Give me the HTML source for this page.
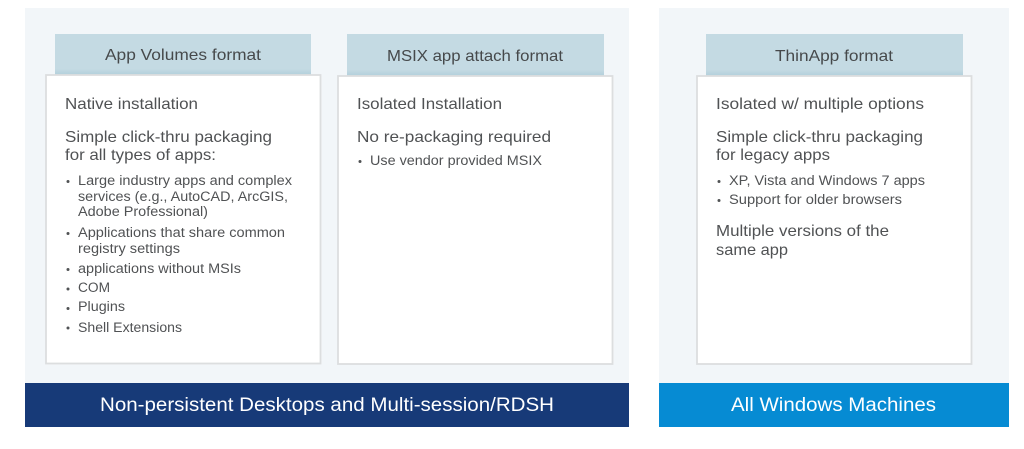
<!DOCTYPE html>
<html>
<head>
<meta charset="utf-8">
<style>
html,body{margin:0;padding:0;background:#fff;width:1024px;height:449px;overflow:hidden}
svg{display:block}
text{font-family:"Liberation Sans",sans-serif;fill:#505254}
.h{font-size:16px;fill:#46494b}
.m{font-size:16px}
.s{font-size:13.500px}
.b{font-size:19px;fill:#fff}
</style>
</head>
<body>
<svg width="1024" height="449" viewBox="0 0 1024 449" xmlns="http://www.w3.org/2000/svg">
<defs>
<linearGradient id="g" x1="0" y1="0" x2="0" y2="1">
<stop offset="0" stop-color="#c4dae3"/>
<stop offset="0.85" stop-color="#c4dae3"/>
<stop offset="1" stop-color="#b1cfdb"/>
</linearGradient>
</defs>
<rect x="25" y="8" width="604" height="376" fill="#f2f6f9"/>
<rect x="659" y="8" width="350" height="376" fill="#f2f6f9"/>
<rect x="25" y="383" width="604" height="44" fill="#173a78"/>
<rect x="659" y="383" width="350" height="44" fill="#068bd3"/>

<rect x="55" y="34" width="256" height="41" fill="url(#g)"/>
<rect x="347" y="34" width="257" height="42" fill="url(#g)"/>
<rect x="706" y="34" width="257" height="42" fill="url(#g)"/>

<rect x="46" y="75" width="274.500" height="288.500" fill="#fff" stroke="#dcdedf" stroke-width="1.800"/>
<rect x="338" y="76" width="274.500" height="288" fill="#fff" stroke="#dcdedf" stroke-width="1.800"/>
<rect x="697" y="76" width="274.500" height="288" fill="#fff" stroke="#dcdedf" stroke-width="1.800"/>

<text class="h" x="105" y="60" textLength="156" lengthAdjust="spacingAndGlyphs">App Volumes format</text>
<text class="h" x="387" y="61" textLength="176" lengthAdjust="spacingAndGlyphs">MSIX app attach format</text>
<text class="h" x="775" y="61" textLength="118" lengthAdjust="spacingAndGlyphs">ThinApp format</text>

<text class="m" x="65" y="109" textLength="133" lengthAdjust="spacingAndGlyphs">Native installation</text>
<text class="m" x="65" y="142" textLength="207" lengthAdjust="spacingAndGlyphs">Simple click-thru packaging</text>
<text class="m" x="65" y="160" textLength="151" lengthAdjust="spacingAndGlyphs">for all types of apps:</text>
<text class="s" x="78" y="185" textLength="214" lengthAdjust="spacingAndGlyphs">Large industry apps and complex</text>
<text class="s" x="78" y="201" textLength="210" lengthAdjust="spacingAndGlyphs">services (e.g., AutoCAD, ArcGIS,</text>
<text class="s" x="78" y="216" textLength="130" lengthAdjust="spacingAndGlyphs">Adobe Professional)</text>
<text class="s" x="78" y="237" textLength="207" lengthAdjust="spacingAndGlyphs">Applications that share common</text>
<text class="s" x="78" y="253" textLength="102" lengthAdjust="spacingAndGlyphs">registry settings</text>
<text class="s" x="78" y="273" textLength="163" lengthAdjust="spacingAndGlyphs">applications without MSIs</text>
<text class="s" x="78" y="292" textLength="32" lengthAdjust="spacingAndGlyphs">COM</text>
<text class="s" x="78" y="311" textLength="47" lengthAdjust="spacingAndGlyphs">Plugins</text>
<text class="s" x="78" y="332" textLength="104" lengthAdjust="spacingAndGlyphs">Shell Extensions</text>

<text class="m" x="357" y="109" textLength="145" lengthAdjust="spacingAndGlyphs">Isolated Installation</text>
<text class="m" x="357" y="142" textLength="194" lengthAdjust="spacingAndGlyphs">No re-packaging required</text>
<text class="s" x="370" y="165" textLength="172" lengthAdjust="spacingAndGlyphs">Use vendor provided MSIX</text>

<text class="m" x="716" y="109" textLength="208" lengthAdjust="spacingAndGlyphs">Isolated w/ multiple options</text>
<text class="m" x="716" y="142" textLength="207" lengthAdjust="spacingAndGlyphs">Simple click-thru packaging</text>
<text class="m" x="716" y="160" textLength="114" lengthAdjust="spacingAndGlyphs">for legacy apps</text>
<text class="s" x="729" y="185" textLength="196" lengthAdjust="spacingAndGlyphs">XP, Vista and Windows 7 apps</text>
<text class="s" x="729" y="204" textLength="173" lengthAdjust="spacingAndGlyphs">Support for older browsers</text>
<text class="m" x="716" y="236" textLength="173" lengthAdjust="spacingAndGlyphs">Multiple versions of the</text>
<text class="m" x="716" y="255" textLength="72" lengthAdjust="spacingAndGlyphs">same app</text>

<text class="b" x="100" y="411" textLength="454" lengthAdjust="spacingAndGlyphs">Non-persistent Desktops and Multi-session/RDSH</text>
<text class="b" x="731" y="411" textLength="205" lengthAdjust="spacingAndGlyphs">All Windows Machines</text>

<g fill="#505254">
<circle cx="68" cy="181.500" r="1.500"/>
<circle cx="68" cy="233.500" r="1.500"/>
<circle cx="68" cy="269.500" r="1.500"/>
<circle cx="68" cy="289" r="1.500"/>
<circle cx="68" cy="308.500" r="1.500"/>
<circle cx="68" cy="328" r="1.500"/>
<circle cx="360" cy="161.500" r="1.500"/>
<circle cx="719" cy="181.500" r="1.500"/>
<circle cx="719" cy="200.500" r="1.500"/>
</g>
</svg>
</body>
</html>
